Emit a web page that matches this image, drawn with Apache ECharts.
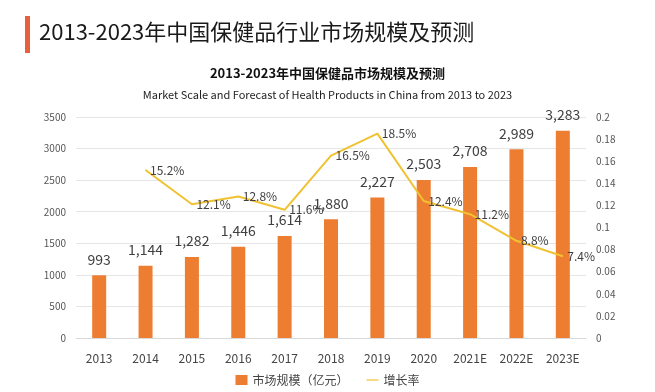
<!DOCTYPE html>
<html><head><meta charset="utf-8">
<script src="https://cdn.jsdelivr.net/npm/echarts@6/dist/echarts.min.js"></script>
<style>html,body{margin:0;padding:0;background:#fff;}#c{width:655px;height:392px;}</style>
</head><body><div id="c"></div>
<script>
const categories = ['2013','2014','2015','2016','2017','2018','2019','2020','2021E','2022E','2023E'];
const marketScale = [993,1144,1282,1446,1614,1880,2227,2503,2708,2989,3283];
const growthRate = [null,0.152,0.121,0.128,0.116,0.165,0.185,0.124,0.112,0.088,0.074];
const growthLabels = ['', '15.2%','12.1%','12.8%','11.6%','16.5%','18.5%','12.4%','11.2%','8.8%','7.4%'];
const mainTitle = '2013-2023年中国保健品行业市场规模及预测';
const chartTitle = '2013-2023年中国保健品市场规模及预测';
const chartSubtitle = 'Market Scale and Forecast of Health Products in China from 2013 to 2023';
const seriesNames = ['市场规模（亿元）','增长率'];

const FONT = '"Noto Sans CJK SC","Noto Sans",sans-serif';
const chart = echarts.init(document.getElementById('c'));
chart.setOption({
  backgroundColor:'#fff',
  textStyle:{fontFamily:FONT},
  graphic:[
    {type:'rect',left:25,top:16,shape:{width:5,height:37},style:{fill:'#E8603C'}},
    {type:'text',left:39,top:21,style:{text:mainTitle,fontSize:22,fontFamily:FONT,fill:'#1a1a1a'}}
  ],
  title:{
    text:chartTitle,
    subtext:chartSubtitle,
    left:'center', top:62, itemGap:9,
    textStyle:{fontSize:13,fontWeight:'bold',color:'#111',fontFamily:FONT},
    subtextStyle:{fontSize:11,color:'#222',fontFamily:FONT}
  },
  legend:{
    bottom:1,left:'center',itemGap:18,itemWidth:12,itemHeight:10,
    textStyle:{fontSize:12,color:'#444',fontFamily:FONT},
    data:[{name:seriesNames[0],icon:'rect'},{name:seriesNames[1],icon:'path://M0,4 L20,4 L20,6 L0,6 Z'}]
  },
  grid:{left:76,right:69,top:117,bottom:54},
  xAxis:{
    type:'category',data:categories,
    axisLine:{lineStyle:{color:'#d9d9d9'}},axisTick:{show:false},
    axisLabel:{fontSize:12,color:'#444',margin:14}
  },
  yAxis:[
    {type:'value',min:0,max:3500,interval:500,
     axisLine:{show:false},axisTick:{show:false},
     axisLabel:{fontSize:10,color:'#555',margin:10,formatter:v=>String(v)},
     splitLine:{lineStyle:{color:'#e6e6e6'}}},
    {type:'value',min:0,max:0.2,interval:0.02,
     axisLine:{show:false},axisTick:{show:false},
     axisLabel:{fontSize:10,color:'#555',margin:10,formatter:v=>String(+v.toFixed(2))},
     splitLine:{show:false}}
  ],
  series:[
    {name:seriesNames[0],type:'bar',data:marketScale,barWidth:14,
     itemStyle:{color:'#ED7D31'},
     label:{show:true,position:'top',distance:9,fontSize:14,color:'#404040',
       formatter:p=>p.value.toLocaleString('en-US')}},
    {name:seriesNames[1],type:'line',yAxisIndex:1,data:growthRate,
     symbol:'circle',symbolSize:1,showSymbol:true,
     lineStyle:{color:'#F0C232',width:2},itemStyle:{color:'#F0C232'},
     label:{show:true,position:'right',distance:4,fontSize:12,color:'#404040',
       formatter:p=>growthLabels[p.dataIndex]}}
  ]
});
</script></body></html>
